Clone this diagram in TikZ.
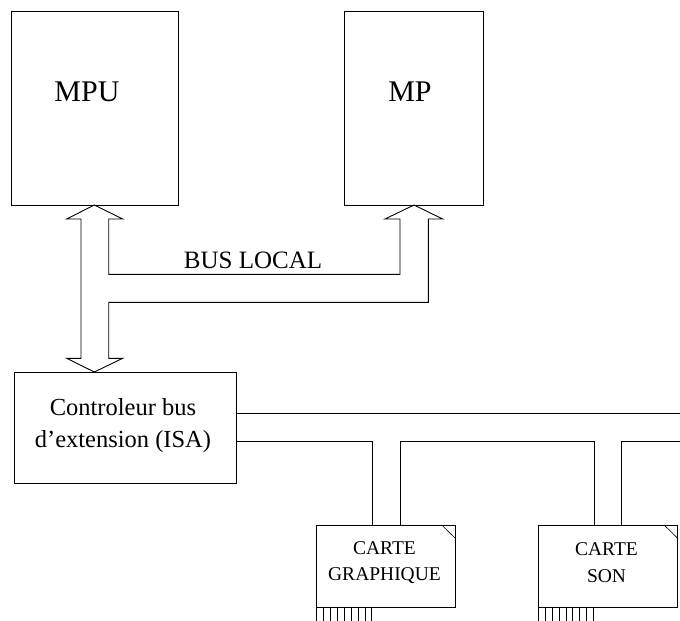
\documentclass[tikz,border=0pt]{standalone}
\usepackage{fontspec}
\setmainfont{Liberation Serif}
\usetikzlibrary{calc}
\begin{document}
\begin{tikzpicture}[x=1pt,y=-1pt,line width=0.9pt,line join=miter,
  box/.style={draw,line width=0.9pt,inner sep=0pt,outer sep=0pt,anchor=north west},
  big/.style={font=\fontsize{30}{36}\selectfont,inner sep=0pt},
  mid/.style={font=\fontsize{24.5}{32}\selectfont,inner sep=0pt,align=center},
  small/.style={font=\fontsize{19.5}{26.7}\selectfont,inner sep=0pt,align=center}]
\useasboundingbox (0,0) rectangle (680,621);
% boxes
\node[box,minimum width=167pt,minimum height=194pt] (mpu) at (11,11) {};
\node[box,minimum width=139pt,minimum height=194pt] (mp) at (344,11) {};
\node[box,minimum width=222pt,minimum height=111pt] (ctl) at (14,372) {};
\node[box,minimum width=138.6pt,minimum height=82.7pt] (c1) at (316.7,525) {};
\node[box,minimum width=139.4pt,minimum height=82.7pt] (c2) at (538.3,525) {};
% texts
\node[big] (tmpu) at (87,92) {MPU};
\node[big] (tmp) at (410,92) {MP};
\node[mid,font=\fontsize{25}{30}\selectfont] (tbus) at (253,260) {BUS LOCAL};
\node[mid] (tctl) at (123,426) {Controleur bus\\d’extension (ISA)};
\node[small] (tc1) at (384.5,562.5) {CARTE\\GRAPHIQUE};
\node[small] (tc2) at (606.5,562.5) {CARTE\\SON};
% local bus (double arrow shape)
\coordinate (ta) at (mpu.south -| 94.3,0);
\coordinate (tb) at (mp.south -| 414,0);
\coordinate (tc) at (ctl.north -| 94.3,0);
\draw (ta) -- (122.7,219) -- (108.7,219) -- (108.7,274.3) -- (400,274.3) -- (400,219)
  -- (385,219) -- (tb) -- (442.7,219) -- (428.3,219) -- (428.3,302.3) -- (108.7,302.3)
  -- (108.7,358.3) -- (122.7,358.3) -- (tc) -- (66.7,358.3) -- (81,358.3) -- (81,219)
  -- (66.7,219) -- cycle;
% ISA bus
\coordinate (e1) at (680,413.5);
\coordinate (e2) at (680,441);
\draw (ctl.east |- e1) -- (e1);
\draw (ctl.east |- e2) -- (372.3,441) -- (c1.north -| 372.3,0);
\draw (c1.north -| 400,0) -- (400,441) -- (594.3,441) -- (c2.north -| 594.3,0);
\draw (c2.north -| 621.7,0) -- (621.7,441) -- (e2);
% folded corners
\draw[line width=0.6pt] (c1.north east) ++(-13.6,0) -- ++(13.6,13.3);
\draw[line width=0.6pt] (c2.north east) ++(-13.6,0) -- ++(13.6,13.3);
% pins
\foreach \i in {0,...,8} {
  \draw[line width=0.6pt] ($(c1.south west)+(\i*6.875,0)$) -- ++(0,13.3);
  \draw[line width=0.6pt] ($(c2.south west)+(\i*6.875,0)$) -- ++(0,13.3);
}
\end{tikzpicture}
\end{document}
